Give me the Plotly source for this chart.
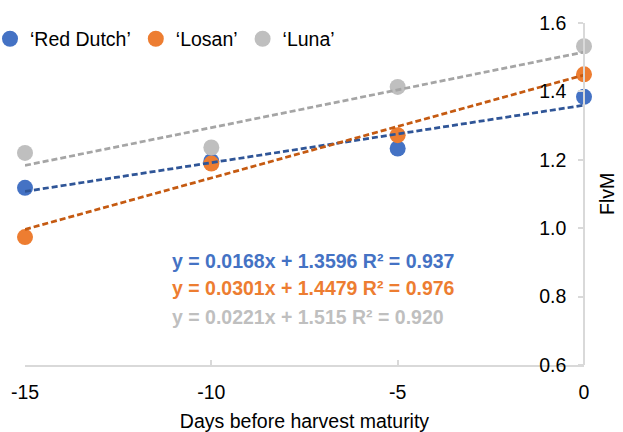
import plotly.graph_objects as go

# ---- data ----
days = [-15, -10, -5, 0]
cultivars = ["‘Red Dutch’", "‘Losan’", "‘Luna’"]
red_dutch = [1.118, 1.196, 1.233, 1.384]
losan = [0.974, 1.189, 1.272, 1.450]
luna = [1.220, 1.236, 1.413, 1.532]
slopes = [0.0168, 0.0301, 0.0221]
intercepts = [1.3596, 1.4479, 1.515]
r_squared = [0.937, 0.976, 0.920]
x_ticks = [-15, -10, -5, 0]
y_ticks = [0.6, 0.8, 1.0, 1.2, 1.4, 1.6]

marker_colors = ["#4472C4", "#ED7D31", "#BFBFBF"]
trend_colors = ["#2F5597", "#C55A11", "#A5A5A5"]
FONT = "Liberation Sans, Arial, sans-serif"

W, H = 623, 432
ML, MR, MT, MB = 25, 39, 23, 67
PW, PH = W - ML - MR, H - MT - MB

fig = go.Figure()
series = [red_dutch, losan, luna]
for name, vals, col in zip(cultivars, series, marker_colors):
    fig.add_trace(go.Scatter(
        x=days, y=vals, mode="markers", name=name,
        marker=dict(size=16, color=col, line=dict(width=0)),
        cliponaxis=False,
    ))

x0, x1 = min(days), max(days)
for m, b, col in zip(slopes, intercepts, trend_colors):
    fig.add_trace(go.Scatter(
        x=[x0, x1], y=[m * x0 + b, m * x1 + b], mode="lines",
        line=dict(color=col, width=2.75, dash="6px,3px"),
        showlegend=False, hoverinfo="skip", cliponaxis=False,
    ))

# regression equations
eq_y_px = [261, 288, 317]
for m, b, r2, col, ypx in zip(slopes, intercepts, r_squared, marker_colors, eq_y_px):
    txt = f"y = {m}x + {b} R² = {r2:.3f}"
    fig.add_annotation(
        xref="paper", yref="paper",
        x=(170 - ML) / PW, y=(H - MB - ypx) / PH,
        xanchor="left", yanchor="middle", showarrow=False,
        text=f"<b>{txt}</b>",
        font=dict(family=FONT, size=19.5, color=col),
    )

# y-axis title at right
fig.add_annotation(
    xref="paper", yref="paper",
    x=(607 - ML) / PW, y=(H - MB - 194) / PH,
    xanchor="center", yanchor="middle", showarrow=False,
    text="FlvM", textangle=-90,
    font=dict(family=FONT, size=19.5, color="#000000"),
)

legend_origin_px = -10
fig.update_layout(
    width=W, height=H,
    margin=dict(l=ML, r=MR, t=MT, b=MB, pad=0, autoexpand=False),
    paper_bgcolor="white", plot_bgcolor="white",
    font=dict(family=FONT, size=19.5, color="#000000"),
    showlegend=True,
    legend=dict(
        orientation="h", x=(legend_origin_px - ML) / PW, y=1.01,
        xanchor="left", yanchor="top",
        font=dict(family=FONT, size=19.5, color="#000000"),
        bgcolor="rgba(0,0,0,0)", itemwidth=30,
        tracegroupgap=0,
    ),
    xaxis=dict(
        range=[-15, 0], tickvals=x_ticks, ticktext=[str(v) for v in x_ticks],
        showgrid=False, zeroline=False,
        showline=True, linecolor="#D9D9D9", linewidth=1.5,
        ticks="inside", ticklen=5, tickcolor="#D9D9D9", tickwidth=1.5,
        ticklabelstandoff=9,
        tickfont=dict(family=FONT, size=19.5, color="#000000"),
        title=dict(text="Days before harvest maturity", standoff=20,
                   font=dict(family=FONT, size=19.5, color="#000000")),
    ),
    yaxis=dict(
        range=[0.6, 1.6], tickvals=y_ticks,
        ticktext=[f"{v:.1f}" for v in y_ticks],
        anchor="free", position=1, side="left",
        showgrid=False, zeroline=False,
        showline=True, linecolor="#D9D9D9", linewidth=1.5,
        ticks="outside", ticklen=5, tickcolor="#D9D9D9", tickwidth=1.5,
        ticklabelstandoff=8,
        tickfont=dict(family=FONT, size=19.5, color="#000000"),
    ),
)

fig.write_html("out.html")
